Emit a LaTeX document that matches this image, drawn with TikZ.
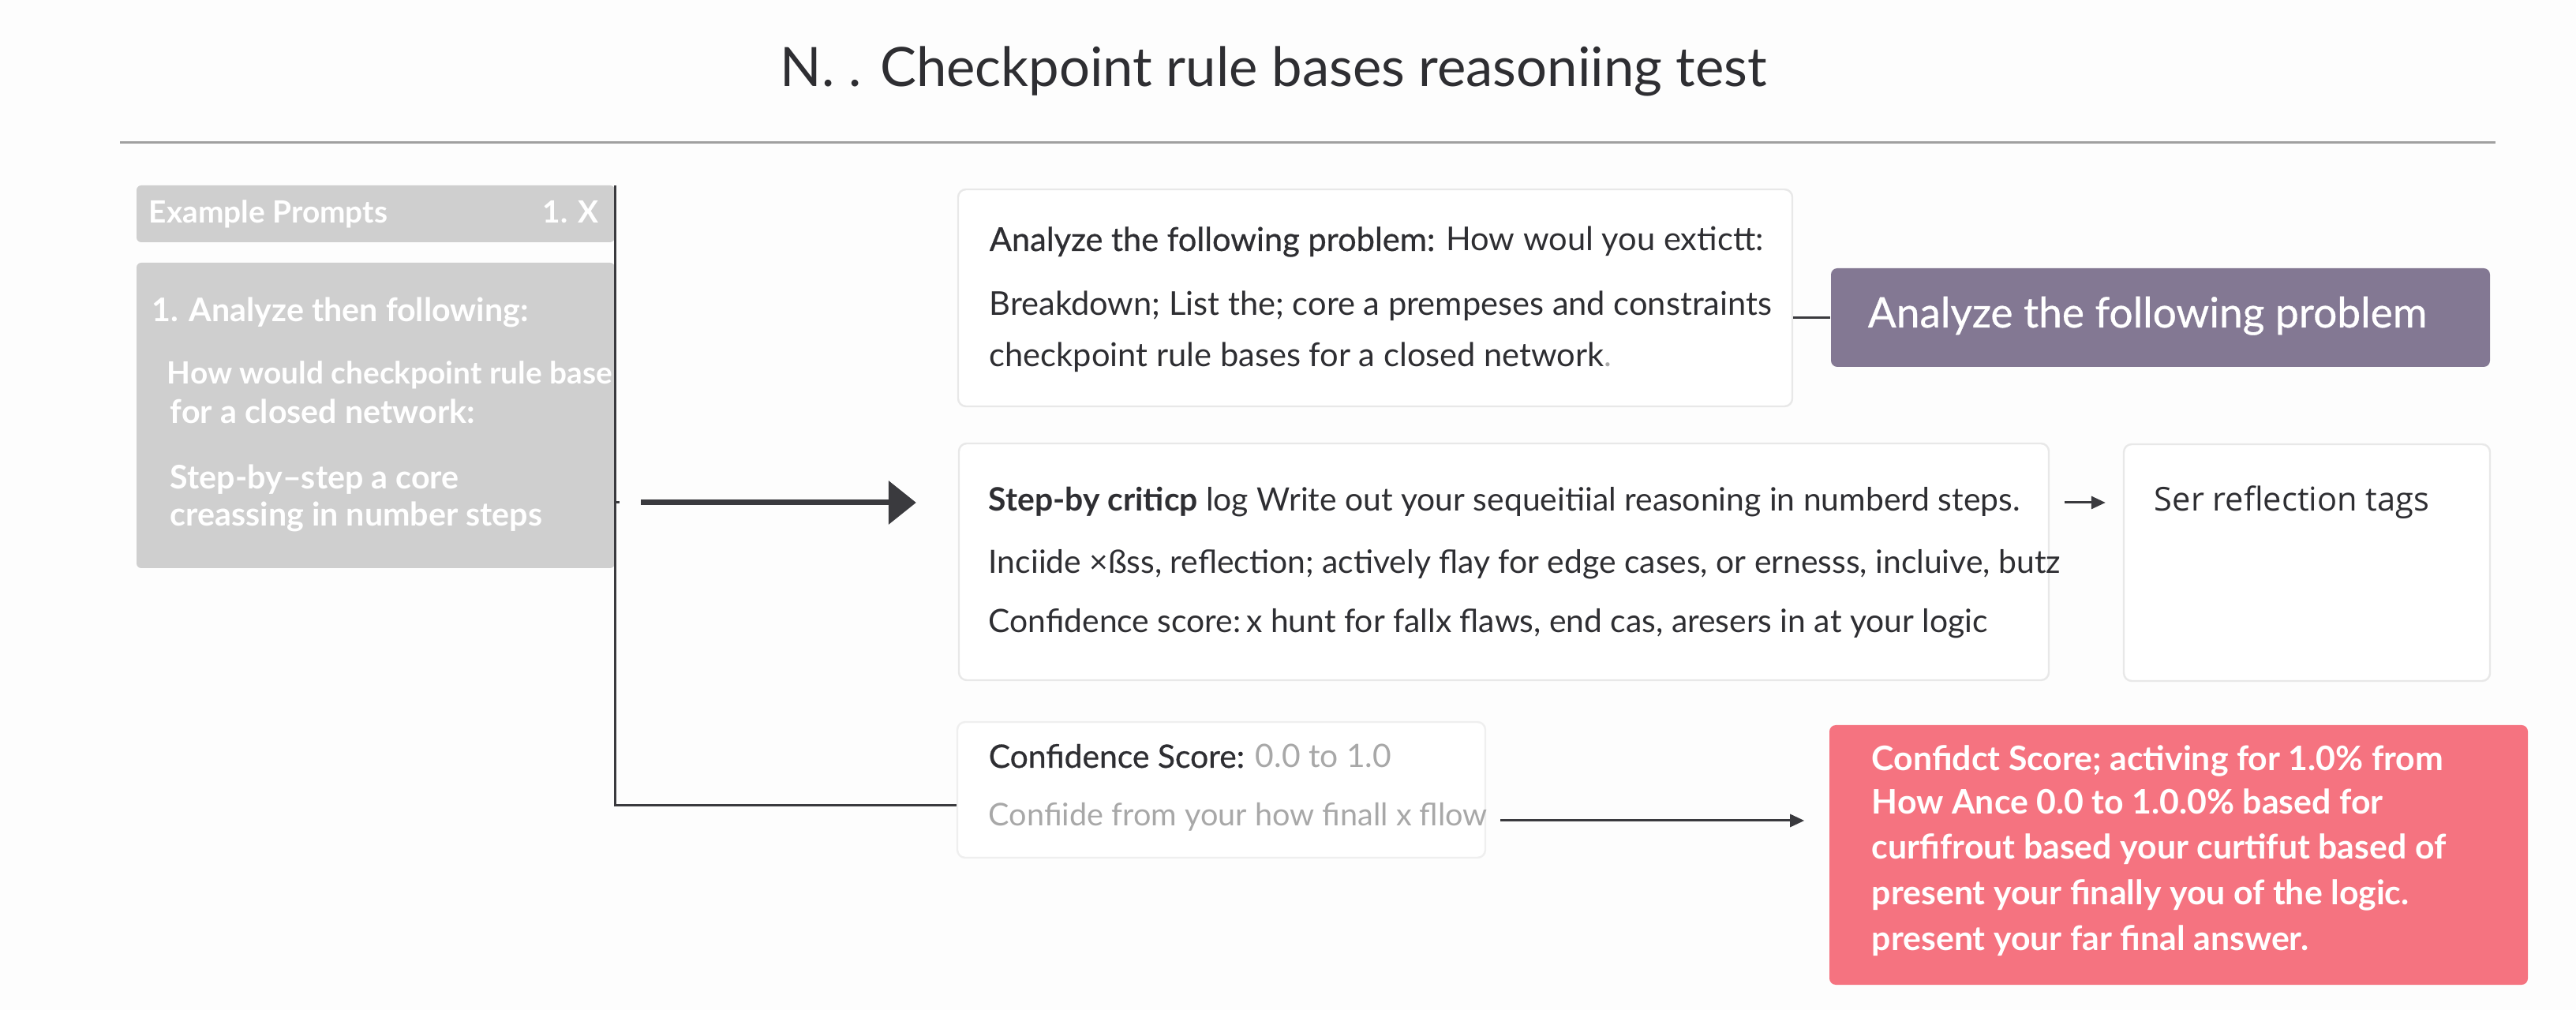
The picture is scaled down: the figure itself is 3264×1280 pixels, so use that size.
\documentclass[tikz,border=0pt]{standalone}
\usepackage{fontspec}
\setmainfont{Lato}
\newfontfamily\tagfont{Open Sans}
\newfontfamily\medium[FakeBold=0.6]{Lato}
\usetikzlibrary{arrows.meta, fit, positioning}

\definecolor{panelgrey}{RGB}{207,207,207}
\definecolor{inkdark}{RGB}{46,46,50}
\definecolor{inklight}{RGB}{168,168,168}
\definecolor{cardline}{RGB}{232,232,232}
\definecolor{purplebox}{RGB}{131,120,147}
\definecolor{redbox}{RGB}{245,115,128}
\definecolor{pagebg}{RGB}{253,253,253}
\definecolor{ruleline}{RGB}{160,160,160}
\definecolor{arrowink}{RGB}{58,58,62}

\tikzset{
  card/.style={draw=cardline, line width=0.6pt, fill=white, rounded corners=2.5pt, inner sep=0pt},
  panel/.style={fill=panelgrey, rounded corners=1.5pt, inner sep=0pt},
  tagbox/.style={rounded corners=2pt, inner sep=0pt},
  txt/.style={anchor=base west, inner sep=0.75pt, text=inkdark, font=\fontsize{10.2}{12}\selectfont},
  paneltxt/.style={anchor=base west, inner sep=0.75pt, text=white, font=\fontsize{9.7}{11}\selectfont\bfseries},
  bigtxt/.style={paneltxt, font=\fontsize{10.3}{12}\selectfont\bfseries},
  answertxt/.style={paneltxt, font=\fontsize{10.7}{12}\selectfont\bfseries},
  conn/.style={draw=arrowink, line width=0.75pt},
  bigarrow/.style={draw=arrowink, line width=1.75pt, -{Triangle[length=8.75pt,width=13.5pt]}},
  smallarrow/.style={draw=arrowink, line width=0.75pt, -{Triangle[length=4.5pt,width=4pt]}}
}

\begin{document}
\begin{tikzpicture}[x=0.25pt,y=0.25pt,yscale=-1,xscale=1]
%set diagram left start at 0, and has size 3264 x 1280
\useasboundingbox (0,0) rectangle (3264,1280);
\fill [pagebg] (0,0) rectangle (3264,1280);

% Text Node
\node [anchor=base][inner sep=0.75pt] (title) at (1614,110) {\fontsize{17.2}{20}\selectfont\color{inkdark}N. . Checkpoint rule bases reasoniing test};
%Straight Lines
\draw [ruleline, line width=0.75pt] (152,181) -- (3162,181);

%Shape: Rectangle [prompt header]
\node [panel, fit={(173,235) (779,307)}] (head) {};
% Text Node
\node [paneltxt] (headl) at (185,283) {Example Prompts};
% Text Node
\node [paneltxt, anchor=base east] (headr) at (762,283) {1. X};

%Shape: Rectangle [prompt body]
\node [panel, fit={(173,333) (779,720)}] (prompts) {};
% Text Node
\node [bigtxt] (p1) at (189,408) {1. Analyze then following:};
% Text Node
\node [paneltxt] (p2) at (208,487) {How would checkpoint rule base};
% Text Node
\node [bigtxt] (p3) at (212,537) {for a closed network:};
% Text Node
\node [bigtxt] (p4) at (212,620) {Step-by–step a core};
% Text Node
\node [bigtxt] (p5) at (212,667) {creassing in number steps};

%Shape: Rectangle [cards]
\node [card, fit={(1214,240) (2271,515)}] (problem) {};
\node [card, fit={(1215,562) (2596,862)}] (steps) {};
\node [card, fit={(2691,563) (3155,863)}] (tags) {};
\node [card, draw=cardline!70, fit={(1213,915) (1882,1087)}] (score) {};
\node [tagbox, fill=purplebox, fit={(2320,340) (3155,465)}] (analyze) {};
\node [tagbox, fill=redbox, fit={(2318,919) (3203,1248)}] (answer) {};

% Text Node
\node [txt, font=\fontsize{10.4}{12}\selectfont] (pr1) at (1250,318) {{\medium Analyze the following problem:} How woul you extictt:};
% Text Node
\node [txt, font=\fontsize{10.4}{12}\selectfont] (pr2) at (1250,400) {Breakdown; List the; core a prempeses and constraints};
% Text Node
\node [txt, font=\fontsize{10.4}{12}\selectfont] (pr3) at (1250,465) {checkpoint rule bases for a closed network{\color{inklight}.}};

% Text Node
\node [txt] (st1) at (1249,648) {{\bfseries Step-by criticp} log Write out your sequeitiial reasoning in numberd steps.};
% Text Node
\node [txt] (st2) at (1249,727) {Inciide ×ßss, reflection; actively flay for edge cases, or ernesss, incluive, butz};
% Text Node
\node [txt] (st3) at (1249,802) {Confidence score:\,x hunt for fallx flaws, end cas, aresers in at your logic};

% Text Node
\node [txt, font=\tagfont\fontsize{10.4}{12}\selectfont] (tg) at (2726,648) {Ser reflection tags};

% Text Node
\node [txt] (sc1) at (1249,973) {{\medium Confidence Score:} {\color{inklight}0.0 to 1.0}};
% Text Node
\node [txt, text=inklight, font=\fontsize{9.9}{12}\selectfont] (sc2) at (1249,1047) {Confiide from your how finall x fllow};

% Text Node
\node [txt, text=white, font=\medium\fontsize{13.3}{15}\selectfont] (an) at (2363,415) {Analyze the following problem};

% Text Node
\node [answertxt] (a1) at (2368,977) {Confidct Score; activing for 1.0\% from};
\node [answertxt] (a2) at (2368,1032) {How Ance 0.0 to 1.0.0\% based for};
\node [answertxt] (a3) at (2368,1089) {curfifrout based your curtifut based of};
\node [answertxt] (a4) at (2368,1147) {present your finally you of the logic.};
\node [answertxt] (a5) at (2368,1205) {present your far final answer.};

% connectors
\coordinate (railtop) at (779,235);
\coordinate (stub) at (779,637);
\coordinate (railend) at (779,1021);
\coordinate (cfy) at (0,1040);
\draw [conn] (railtop) -- (railend) -- (railend -| score.west);
\draw [conn] (stub) -- ++(6,0);
\draw [bigarrow, shorten <=8.25pt, shorten >=13.25pt] (stub) -- (stub -| steps.west);
\draw [conn] (problem.east |- analyze.west) -- (analyze.west);
\draw [smallarrow, shorten <=4.75pt, shorten >=5.5pt] (steps.east |- stub) -- (stub -| tags.west);
\draw [smallarrow, shorten <=4.5pt, shorten >=7.75pt] (score.east |- cfy) -- (answer.west |- cfy);

\end{tikzpicture}
\end{document}
